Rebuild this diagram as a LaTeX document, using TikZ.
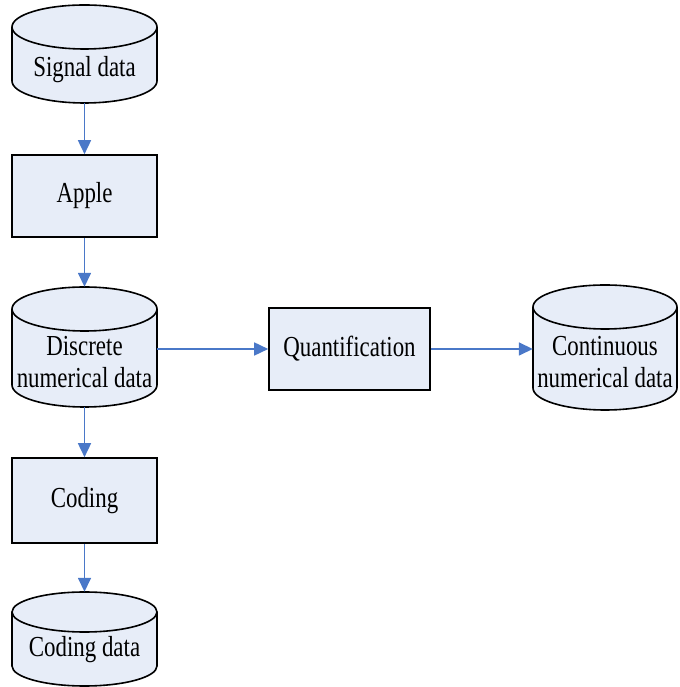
\documentclass[tikz,border=0pt]{standalone}
\usepackage{fontspec}
\setmainfont{Liberation Serif}[FakeStretch=0.79]
\usetikzlibrary{arrows.meta}
\definecolor{boxfill}{HTML}{E7EDF8}
\definecolor{arrowblue}{HTML}{4A78C8}
\newcommand\cylshape[5]{% cx, rx, top, bottom, ry
  \pgfmathsetmacro\cL{#1-#2}\pgfmathsetmacro\cR{#1+#2}%
  \pgfmathsetmacro\cT{#3-#5}\pgfmathsetmacro\cB{#4+#5}%
  \fill[boxfill] (\cL,\cT) -- (\cL,\cB) arc[start angle=180,end angle=360,x radius=#2pt,y radius=#5pt] -- (\cR,\cT) arc[start angle=0,end angle=180,x radius=#2pt,y radius=#5pt] -- cycle;
  \draw[outline] (\cL,\cT) -- (\cL,\cB) arc[start angle=180,end angle=360,x radius=#2pt,y radius=#5pt] -- (\cR,\cT);
  \draw[outline] (#1,\cT) ellipse[x radius=#2pt,y radius=#5pt];
}
\begin{document}
\begin{tikzpicture}[x=1pt,y=1pt,
  outline/.style={draw=black,line width=1.6pt},
  procbox/.style={draw=black,line width=1.6pt,fill=boxfill,minimum width=145pt,inner sep=0pt,font=\fontsize{29}{32}\selectfont},
  cylarea/.style={inner sep=0pt,minimum width=145pt},
  cyltext/.style={align=center,inner sep=0pt,font=\fontsize{29}{32}\selectfont},
  flow/.style={draw=arrowblue,line width=1.6pt,-{Triangle[length=14pt,width=13pt]}}]
\useasboundingbox (0,0) rectangle (679,687);
% cylinders
\cylshape{84.5}{72.5}{682}{584}{22}
\cylshape{84.5}{72.5}{400}{280}{22}
\cylshape{605}{72}{402}{277}{22}
\cylshape{84.5}{72.5}{95}{1}{20}
\node[cylarea,minimum height=98pt] (sig) at (84.5,633) {};
\node[cylarea,minimum height=120pt] (disc) at (84.5,340) {};
\node[cylarea,minimum width=144pt,minimum height=125pt] (cont) at (605,339.5) {};
\node[cylarea,minimum height=94pt] (cdata) at (84.5,48) {};
\node[cyltext] (sigt) at (84.5,617) {Signal data};
\node[cyltext] (disct) at (84.5,325) {Discrete\\numerical data};
\node[cyltext] (contt) at (605,325) {Continuous\\numerical data};
\node[cyltext] (cdatat) at (84.5,37) {Coding data};
% process boxes
\node[procbox,minimum height=82pt] (apple) at (84.5,491) {Apple};
\node[procbox,minimum width=161pt,minimum height=82pt] (quant) at (349.5,338) {Quantification};
\node[procbox,minimum height=85pt] (coding) at (84.5,186.5) {Coding};
% connectors
\draw[flow] (sig.south) -- (apple.north);
\draw[flow] (apple.south) -- (disc.north);
\draw[flow] (disc.south) -- (coding.north);
\draw[flow] (coding.south) -- (cdata.north);
\draw[flow] (disc.east |- quant.west) -- (quant.west);
\draw[flow] (quant.east) -- (cont.west |- quant.east);
\end{tikzpicture}
\end{document}
